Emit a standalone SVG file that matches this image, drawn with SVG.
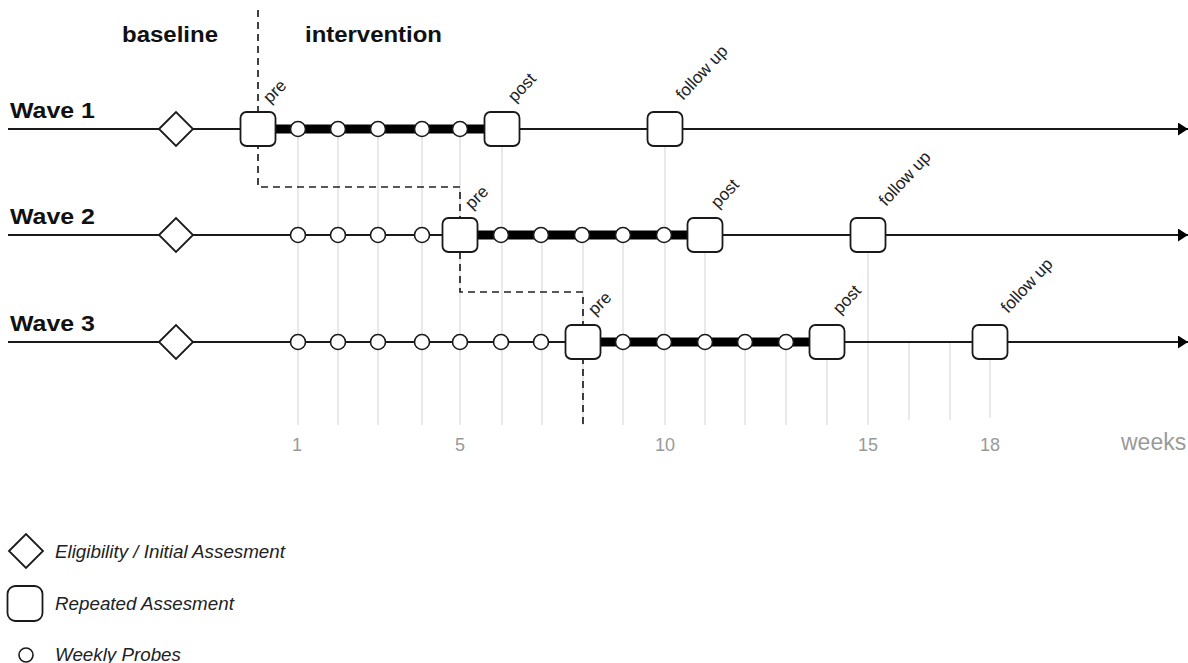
<svg xmlns="http://www.w3.org/2000/svg" width="1188" height="663" viewBox="0 0 1188 663">
<style>
.grid{stroke:#e4e4e4;stroke-width:1.6;fill:none}
.wave{stroke:#1a1a1a;stroke-width:1.8;fill:none}
.thick{stroke:#000;stroke-width:9;fill:none}
.dash{stroke:#222;stroke-width:1.7;fill:none;stroke-dasharray:7 5}
.sq{fill:#fff;stroke:#1a1a1a;stroke-width:1.8}
.dia{fill:#fff;stroke:#1a1a1a;stroke-width:1.8}
.pr{fill:#fff;stroke:#1a1a1a;stroke-width:1.6}
.head{font-family:"Liberation Sans",Arial,sans-serif;font-weight:bold;fill:#111;font-size:22px}
.lbl{font-family:"Liberation Sans",Arial,sans-serif;fill:#222;font-size:17px}
.num{font-family:"Liberation Sans",Arial,sans-serif;fill:#9a9a9a;font-size:18px;text-anchor:middle}
.leg{font-family:"Liberation Sans",Arial,sans-serif;font-style:italic;fill:#222;font-size:18.8px}
</style>
<defs>
<marker id="arr" markerUnits="userSpaceOnUse" markerWidth="11" markerHeight="14" refX="10" refY="6.5" orient="auto">
<path d="M0,0 L10,6.5 L0,13 z" fill="#000"/>
</marker>
<rect id="sqs" x="-17.5" y="-17" width="35" height="34" rx="6" class="sq"/>
<path id="dias" d="M-17,0 L0,-17 L17,0 L0,17 z" class="dia"/>
<circle id="prs" r="7.5" class="pr"/>
</defs>

<g id="grid">
<path class="grid" d="M298,129V425 M338,129V425 M378,129V425 M422,129V425 M460,129V425 M502,129V425 M542,235V425 M583,235V425 M623,235V425 M665,129V425 M705,235V425 M745,342V425 M786,342V425 M827,342V425 M868,235V425 M909,342V420 M950,342V420 M990,342V418"/>
</g>

<g id="headers">
<text class="head" x="122" y="42" textLength="96" lengthAdjust="spacingAndGlyphs">baseline</text>
<text class="head" x="305" y="42" textLength="137" lengthAdjust="spacingAndGlyphs">intervention</text>
<text class="head" x="10" y="118" textLength="85" lengthAdjust="spacingAndGlyphs">Wave 1</text>
<text class="head" x="10" y="224" textLength="85" lengthAdjust="spacingAndGlyphs">Wave 2</text>
<text class="head" x="10" y="331" textLength="85" lengthAdjust="spacingAndGlyphs">Wave 3</text>
</g>

<g id="connectors">
<path class="dash" d="M258,10 V187 H460 V292 H583 V425"/>
<line class="wave" x1="8" y1="129" x2="1188" y2="129" marker-end="url(#arr)"/>
<line class="wave" x1="8" y1="235" x2="1188" y2="235" marker-end="url(#arr)"/>
<line class="wave" x1="8" y1="342" x2="1188" y2="342" marker-end="url(#arr)"/>
<line class="thick" x1="272" y1="129" x2="488" y2="129"/>
<line class="thick" x1="474" y1="235" x2="692" y2="235"/>
<line class="thick" x1="597" y1="342" x2="814" y2="342"/>
</g>

<g id="wave1">
<g id="w1-elig"><use href="#dias" x="176" y="129"/></g>
<g id="w1-p1"><use href="#prs" x="298" y="129"/></g>
<g id="w1-p2"><use href="#prs" x="338" y="129"/></g>
<g id="w1-p3"><use href="#prs" x="378" y="129"/></g>
<g id="w1-p4"><use href="#prs" x="422" y="129"/></g>
<g id="w1-p5"><use href="#prs" x="460" y="129"/></g>
<g id="w1-pre"><use href="#sqs" x="258" y="129"/><text class="lbl" transform="translate(270,104) rotate(-45)">pre</text></g>
<g id="w1-post"><use href="#sqs" x="502" y="129"/><text class="lbl" transform="translate(515,103) rotate(-47)">post</text></g>
<g id="w1-follow"><use href="#sqs" x="665" y="129"/><text class="lbl" transform="translate(683,101) rotate(-47)">follow up</text></g>
</g>

<g id="wave2">
<g id="w2-elig"><use href="#dias" x="176" y="235"/></g>
<g id="w2-p1"><use href="#prs" x="298" y="235"/></g>
<g id="w2-p2"><use href="#prs" x="338" y="235"/></g>
<g id="w2-p3"><use href="#prs" x="378" y="235"/></g>
<g id="w2-p4"><use href="#prs" x="422" y="235"/></g>
<g id="w2-p6"><use href="#prs" x="501" y="235"/></g>
<g id="w2-p7"><use href="#prs" x="541" y="235"/></g>
<g id="w2-p8"><use href="#prs" x="582" y="235"/></g>
<g id="w2-p9"><use href="#prs" x="623" y="235"/></g>
<g id="w2-p10"><use href="#prs" x="664" y="235"/></g>
<g id="w2-pre"><use href="#sqs" x="460" y="235"/><text class="lbl" transform="translate(472,210) rotate(-45)">pre</text></g>
<g id="w2-post"><use href="#sqs" x="705" y="235"/><text class="lbl" transform="translate(718,209) rotate(-47)">post</text></g>
<g id="w2-follow"><use href="#sqs" x="868" y="235"/><text class="lbl" transform="translate(886,207) rotate(-47)">follow up</text></g>
</g>

<g id="wave3">
<g id="w3-elig"><use href="#dias" x="176" y="342"/></g>
<g id="w3-p1"><use href="#prs" x="298" y="342"/></g>
<g id="w3-p2"><use href="#prs" x="338" y="342"/></g>
<g id="w3-p3"><use href="#prs" x="378" y="342"/></g>
<g id="w3-p4"><use href="#prs" x="422" y="342"/></g>
<g id="w3-p5"><use href="#prs" x="460" y="342"/></g>
<g id="w3-p6"><use href="#prs" x="501" y="342"/></g>
<g id="w3-p7"><use href="#prs" x="541" y="342"/></g>
<g id="w3-p9"><use href="#prs" x="623" y="342"/></g>
<g id="w3-p10"><use href="#prs" x="664" y="342"/></g>
<g id="w3-p11"><use href="#prs" x="705" y="342"/></g>
<g id="w3-p12"><use href="#prs" x="745" y="342"/></g>
<g id="w3-p13"><use href="#prs" x="786" y="342"/></g>
<g id="w3-pre"><use href="#sqs" x="583" y="342"/><text class="lbl" transform="translate(595,316) rotate(-45)">pre</text></g>
<g id="w3-post"><use href="#sqs" x="827" y="342"/><text class="lbl" transform="translate(840,315) rotate(-47)">post</text></g>
<g id="w3-follow"><use href="#sqs" x="990" y="342"/><text class="lbl" transform="translate(1008,314) rotate(-47)">follow up</text></g>
</g>

<g id="axis">
<text class="num" x="297" y="451">1</text>
<text class="num" x="460" y="451">5</text>
<text class="num" x="665" y="451">10</text>
<text class="num" x="868" y="451">15</text>
<text class="num" x="990" y="451">18</text>
<text class="num" x="1121" y="450" style="text-anchor:start;font-size:23px">weeks</text>
</g>

<g id="legend">
<g id="leg-elig"><use href="#dias" x="26" y="551"/><text class="leg" x="55" y="558">Eligibility / Initial Assesment</text></g>
<g id="leg-rep"><rect x="7.5" y="586" width="35" height="35" rx="8" class="sq"/><text class="leg" x="55" y="610">Repeated Assesment</text></g>
<g id="leg-probe"><circle cx="26" cy="655" r="7" class="pr"/><text class="leg" x="55" y="661">Weekly Probes</text></g>
</g>
</svg>
